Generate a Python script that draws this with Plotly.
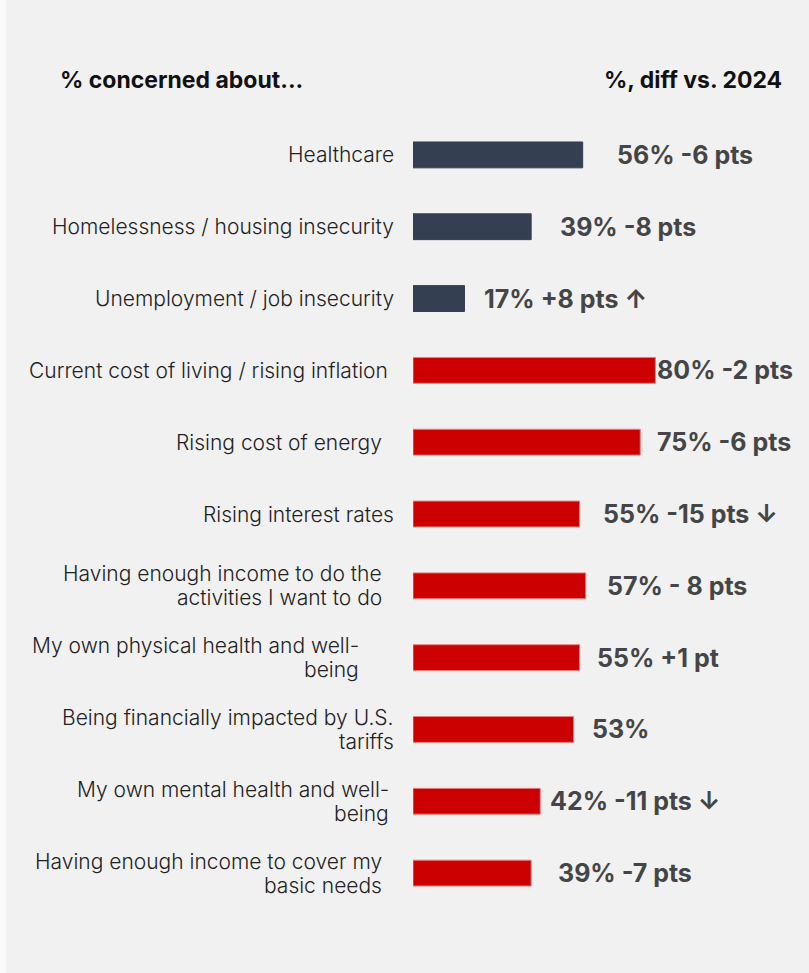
import plotly.graph_objects as go

categories = [
    "Healthcare",
    "Homelessness / housing insecurity",
    "Unemployment / job insecurity",
    "Current cost of living / rising inflation",
    "Rising cost of energy",
    "Rising interest rates",
    "Having enough income to do the<br>activities I want to do",
    "My own physical health and well-<br>being",
    "Being financially impacted by U.S.<br>tariffs",
    "My own mental health and well-<br>being",
    "Having enough income to cover my<br>basic needs",
]
values = [56, 39, 17, 80, 75, 55, 57, 55, 53, 42, 39]
value_labels = [
    "56% -6 pts", "39% -8 pts", "17% +8 pts \u2191", "80% -2 pts", "75% -6 pts",
    "55% -15 pts \u2193", "57% - 8 pts", "55% +1 pt", "53%", "42% -11 pts \u2193", "39% -7 pts",
]
groups = ["social", "social", "social", "fin", "fin", "fin", "fin", "fin", "fin", "fin", "fin"]

# styling
group_colors = {"social": "#353f52", "fin": "#cc0000"}
group_lines = {"social": "#353f52", "fin": "#e58080"}
label_gap_px = [17, 17, 17, 23, 29, 17, 29, 52, 17, 22, 29]
value_gap_px = [32, 27, 17, 0, 15, 21, 19, 15, 16, 8, 25]
LINE_H = 24

W, H = 809, 973
L, R, T, B = 413, 2, 119, 64
pw = W - L - R
ph = H - T - B


def px_x(px):
    return (px - L) / pw


def px_y(py):
    return (H - B - py) / ph


ys = list(range(len(categories)))

fig = go.Figure()
fig.add_trace(go.Bar(
    x=values, y=ys, orientation="h",
    marker=dict(color=[group_colors[g] for g in groups],
                line=dict(color=[group_lines[g] for g in groups], width=1)),
    width=0.36, hoverinfo="skip",
))

label_font = dict(family="Inter, sans-serif", size=21, color="#222222", weight=300)
ann = []
for i, (c, v, lab) in enumerate(zip(categories, values, value_labels)):
    lines = c.split("<br>")
    n = len(lines)
    for k, line in enumerate(lines):
        ann.append(dict(x=0, y=i, xref="x", yref="y", text=line, showarrow=False,
                        xanchor="right", yanchor="middle", align="right",
                        xshift=-label_gap_px[i],
                        yshift=((n - 1) / 2 - k) * LINE_H,
                        font=label_font))
    ann.append(dict(x=v, y=i, xref="x", yref="y", text=lab, showarrow=False,
                    xanchor="left", yanchor="middle", xshift=value_gap_px[i],
                    font=dict(family="Inter, sans-serif", size=25, color="#454545", weight="bold")))

ann.append(dict(x=px_x(58), y=px_y(80), xref="paper", yref="paper", text="% concerned about...",
                showarrow=False, xanchor="left", yanchor="middle",
                font=dict(family="Inter, sans-serif", size=23, color="#111111", weight="bold")))
ann.append(dict(x=px_x(784), y=px_y(80), xref="paper", yref="paper", text="%, diff vs. 2024",
                showarrow=False, xanchor="right", yanchor="middle",
                font=dict(family="Inter, sans-serif", size=23, color="#111111", weight="bold")))

fig.update_layout(
    width=W, height=H,
    margin=dict(l=L, r=R, t=T, b=B, pad=0),
    paper_bgcolor="#f1f1f1", plot_bgcolor="#f1f1f1",
    showlegend=False,
    annotations=ann,
    shapes=[dict(type="rect", xref="paper", yref="paper", x0=px_x(0), x1=px_x(6),
                 y0=px_y(H), y1=px_y(0), fillcolor="#fafafa", line=dict(width=0), layer="below")],
    xaxis=dict(range=[0, pw / 3.03], visible=False, fixedrange=True),
    yaxis=dict(range=[len(categories) - 0.5, -0.5], visible=False, fixedrange=True),
)

fig.write_html("out.html", config={"displayModeBar": False},
               post_script="document.body.style.margin='0';")
